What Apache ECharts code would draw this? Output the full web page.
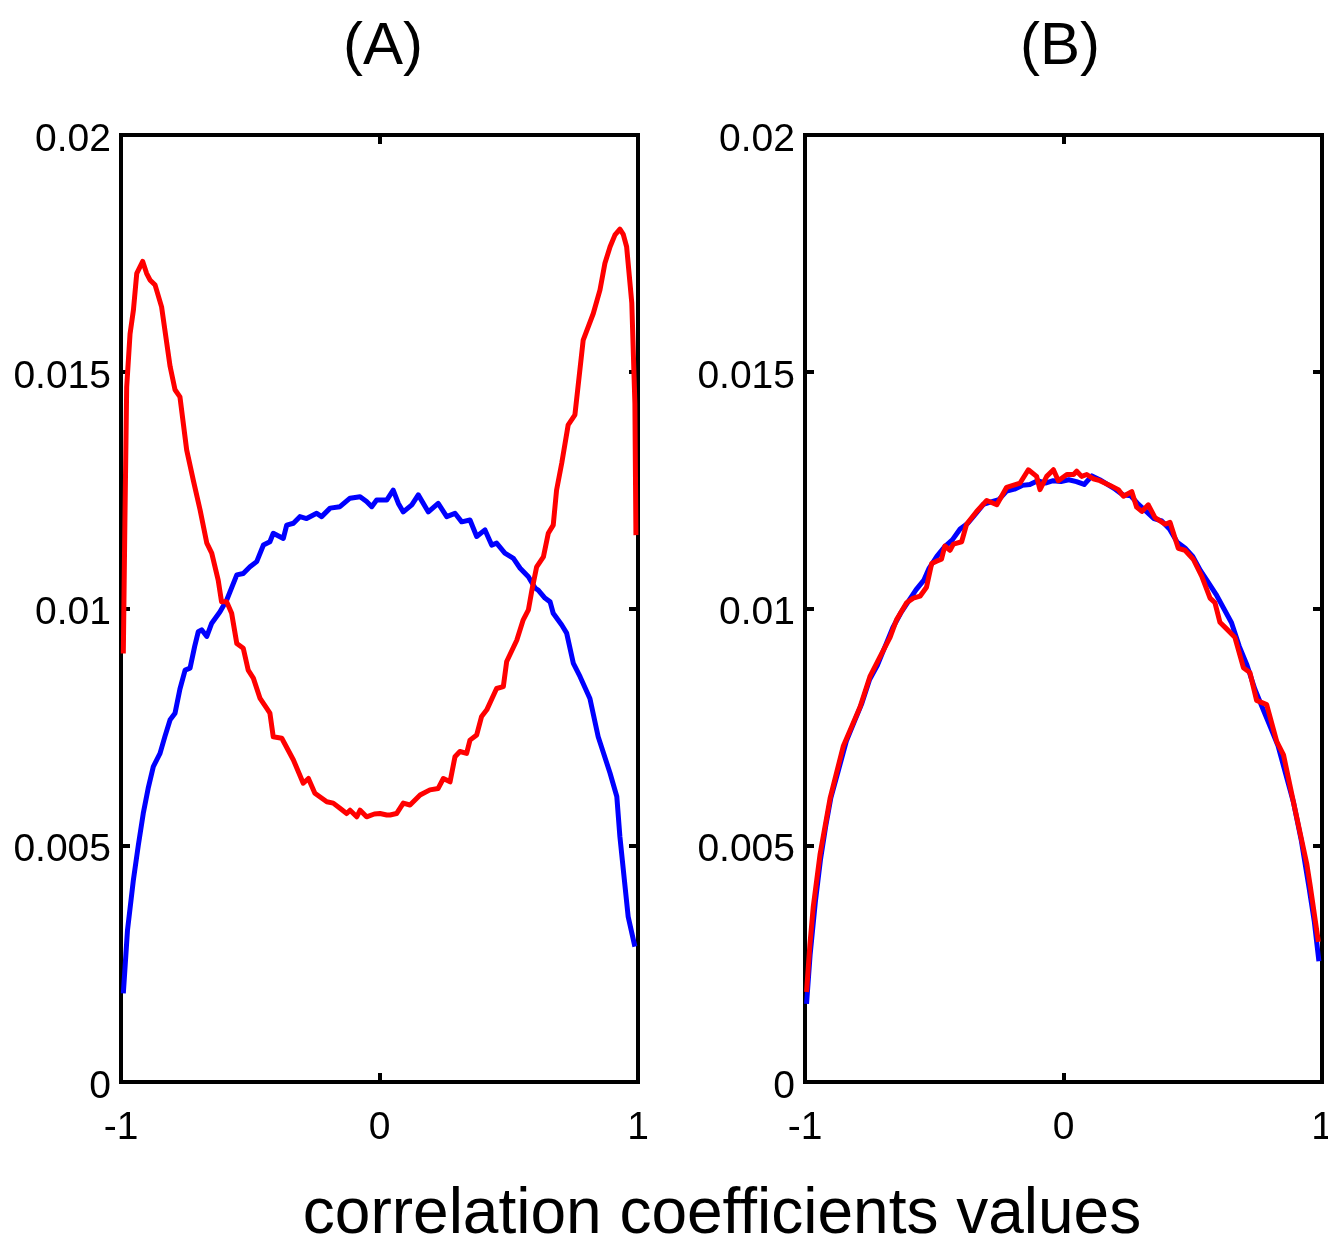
<!DOCTYPE html>
<html>
<head>
<meta charset="utf-8">
<script src="https://cdn.jsdelivr.net/npm/echarts@6/dist/echarts.min.js"></script>
<style>
html,body{margin:0;padding:0;background:#fff;}
#c{width:1328px;height:1237px;}
</style>
</head>
<body>
<div id="c"></div>
<script>
// ---- data ----
const panelTitles = ['(A)', '(B)'];
const xLabel = 'correlation coefficients values';
const xTicks = [-1, 0, 1];
const yTicks = [0, 0.005, 0.01, 0.015, 0.02];

// Panel A, blue curve [x, density]
const aBlue = [[-0.991,0.00187],[-0.975,0.0032],[-0.952,0.00427],[-0.933,0.0050],[-0.914,0.00567],[-0.895,0.0062],[-0.875,0.00666],[-0.849,0.00694],[-0.83,0.0073],[-0.81,0.00765],[-0.791,0.00779],[-0.772,0.0083],[-0.752,0.0087],[-0.733,0.00874],[-0.715,0.0092],[-0.701,0.00951],[-0.688,0.00955],[-0.668,0.00941],[-0.649,0.00969],[-0.617,0.00993],[-0.591,0.01018],[-0.552,0.01071],[-0.527,0.01074],[-0.501,0.01088],[-0.475,0.01099],[-0.449,0.01134],[-0.424,0.01141],[-0.411,0.01159],[-0.372,0.01148],[-0.359,0.01176],[-0.333,0.0118],[-0.308,0.01194],[-0.282,0.0119],[-0.243,0.01201],[-0.224,0.01194],[-0.191,0.01212],[-0.153,0.01215],[-0.114,0.01233],[-0.075,0.01236],[-0.05,0.01226],[-0.03,0.01215],[-0.011,0.01229],[0.028,0.01229],[0.053,0.0125],[0.073,0.01222],[0.092,0.01204],[0.125,0.01219],[0.15,0.0124],[0.189,0.01204],[0.227,0.01222],[0.26,0.01194],[0.292,0.01201],[0.318,0.01183],[0.35,0.01187],[0.376,0.01152],[0.408,0.01166],[0.434,0.01134],[0.453,0.01138],[0.485,0.01117],[0.518,0.01106],[0.544,0.01085],[0.576,0.01067],[0.602,0.01043],[0.614,0.01039],[0.64,0.01022],[0.66,0.01014],[0.672,0.0099],[0.705,0.00965],[0.724,0.00948],[0.75,0.00884],[0.776,0.00856],[0.814,0.0081],[0.846,0.00729],[0.892,0.00652],[0.918,0.00603],[0.93,0.00518],[0.962,0.00349],[0.988,0.00286]];

// Panel A, red curve [x, density]
const aRed = [[-0.991,0.00905],[-0.985,0.0118],[-0.978,0.01468],[-0.965,0.0158],[-0.952,0.0163],[-0.939,0.01708],[-0.916,0.01733],[-0.901,0.01708],[-0.888,0.01694],[-0.868,0.01683],[-0.843,0.01637],[-0.81,0.01511],[-0.791,0.01462],[-0.772,0.01447],[-0.746,0.01335],[-0.72,0.0127],[-0.694,0.01208],[-0.668,0.01138],[-0.649,0.01117],[-0.624,0.0106],[-0.611,0.01014],[-0.591,0.01014],[-0.572,0.0099],[-0.552,0.00926],[-0.527,0.00916],[-0.508,0.0087],[-0.488,0.00853],[-0.462,0.0081],[-0.436,0.00789],[-0.424,0.00779],[-0.411,0.00729],[-0.378,0.00726],[-0.333,0.0068],[-0.295,0.00631],[-0.275,0.00641],[-0.25,0.0061],[-0.204,0.00592],[-0.179,0.00589],[-0.153,0.00578],[-0.127,0.00567],[-0.114,0.00574],[-0.088,0.0056],[-0.075,0.00574],[-0.05,0.0056],[-0.02,0.00566],[0.002,0.00567],[0.028,0.00564],[0.041,0.00564],[0.066,0.00567],[0.073,0.00564],[0.092,0.00589],[0.118,0.00585],[0.157,0.00606],[0.195,0.00617],[0.227,0.0062],[0.247,0.00641],[0.273,0.00634],[0.292,0.00687],[0.311,0.00698],[0.337,0.00694],[0.35,0.00722],[0.376,0.00733],[0.395,0.00772],[0.415,0.00786],[0.453,0.00831],[0.479,0.00835],[0.492,0.00888],[0.531,0.00933],[0.556,0.00976],[0.576,0.00997],[0.59,0.0104],[0.608,0.01088],[0.634,0.01109],[0.653,0.01159],[0.672,0.01176],[0.685,0.0125],[0.705,0.01307],[0.73,0.01388],[0.756,0.01409],[0.788,0.01567],[0.827,0.01623],[0.853,0.01673],[0.872,0.01729],[0.892,0.01764],[0.911,0.01789],[0.93,0.01801],[0.943,0.0179],[0.956,0.01764],[0.976,0.01645],[0.988,0.01433],[0.992,0.01155]];

// Panel B, blue curve [x, density]
const bBlue = [[-0.994,0.00165],[-0.98,0.0027],[-0.96,0.0038],[-0.94,0.0047],[-0.92,0.0054],[-0.9,0.006],[-0.87,0.0066],[-0.84,0.0072],[-0.81,0.0076],[-0.78,0.008],[-0.75,0.0085],[-0.72,0.0088],[-0.69,0.0092],[-0.66,0.0096],[-0.63,0.0099],[-0.6,0.01015],[-0.57,0.0104],[-0.54,0.0106],[-0.52,0.01085],[-0.49,0.0111],[-0.46,0.0113],[-0.43,0.01145],[-0.4,0.01168],[-0.37,0.0118],[-0.34,0.012],[-0.31,0.0122],[-0.28,0.01225],[-0.25,0.0123],[-0.22,0.01248],[-0.19,0.01252],[-0.16,0.0126],[-0.13,0.01262],[-0.1,0.0127],[-0.07,0.01265],[-0.04,0.0127],[-0.01,0.01268],[0.02,0.01272],[0.05,0.01268],[0.08,0.01262],[0.11,0.0128],[0.14,0.01272],[0.17,0.01262],[0.2,0.01252],[0.23,0.0124],[0.26,0.01238],[0.29,0.0122],[0.32,0.01205],[0.35,0.0119],[0.38,0.01185],[0.41,0.01168],[0.44,0.0114],[0.47,0.01128],[0.5,0.0111],[0.53,0.0108],[0.56,0.01055],[0.59,0.0103],[0.62,0.01],[0.65,0.0097],[0.68,0.0092],[0.71,0.0088],[0.74,0.0083],[0.77,0.0079],[0.8,0.0075],[0.83,0.0071],[0.86,0.0065],[0.89,0.0059],[0.92,0.0051],[0.95,0.0041],[0.97,0.0034],[0.988,0.00255]];

// Panel B, red curve [x, density]
const bRed = [[-0.994,0.0019],[-0.981,0.0029],[-0.968,0.0037],[-0.942,0.0048],[-0.903,0.00599],[-0.852,0.00709],[-0.82,0.0075],[-0.787,0.00792],[-0.749,0.00856],[-0.71,0.00898],[-0.671,0.00939],[-0.646,0.00976],[-0.607,0.01012],[-0.581,0.01022],[-0.555,0.01026],[-0.53,0.01045],[-0.51,0.01095],[-0.491,0.011],[-0.472,0.01104],[-0.459,0.01132],[-0.439,0.01123],[-0.426,0.01136],[-0.394,0.01141],[-0.375,0.01178],[-0.336,0.01205],[-0.297,0.01228],[-0.258,0.01219],[-0.22,0.01256],[-0.168,0.01265],[-0.136,0.01293],[-0.104,0.01279],[-0.091,0.01251],[-0.065,0.01279],[-0.039,0.01293],[-0.02,0.0127],[0.013,0.01283],[0.039,0.01283],[0.051,0.0129],[0.07,0.01279],[0.09,0.01283],[0.115,0.01274],[0.141,0.0127],[0.18,0.0126],[0.212,0.01251],[0.232,0.01237],[0.264,0.01247],[0.283,0.01214],[0.303,0.01205],[0.328,0.01219],[0.354,0.01192],[0.393,0.01178],[0.412,0.01182],[0.444,0.01127],[0.47,0.01123],[0.502,0.01104],[0.535,0.01068],[0.567,0.01022],[0.586,0.01012],[0.605,0.00971],[0.631,0.00957],[0.663,0.00939],[0.696,0.00875],[0.721,0.00865],[0.747,0.00806],[0.786,0.00797],[0.825,0.00719],[0.851,0.00691],[0.89,0.0059],[0.941,0.00461],[0.954,0.00416],[0.986,0.00296]];

// ---- chart ----
const FONT = 'Liberation Sans, Arial, Helvetica, sans-serif';
const BLUE = '#0000ff', RED = '#ff0000';
const chart = echarts.init(document.getElementById('c'), null, {renderer: 'canvas'});

const grids = [
  {left: 121, top: 135, width: 517, height: 947},
  {left: 805, top: 135, width: 517, height: 947}
].map(g => Object.assign(g, {show: true, borderColor: '#000', borderWidth: 4, backgroundColor: 'transparent', containLabel: false, outerBoundsMode: 'none'}));

const fmtY = v => String(+Number(v).toFixed(3));
const tickStyle = {show: true, inside: true, length: 9, lineStyle: {color: '#000', width: 4}};
const labelStyle = {color: '#000', fontFamily: FONT, fontSize: 39};

const xAxes = [], yAxes = [];
[0, 1].forEach(gi => {
  ['bottom', 'top'].forEach(pos => {
    xAxes.push({
      type: 'value', gridIndex: gi, position: pos,
      min: xTicks[0], max: xTicks[xTicks.length - 1], interval: 1,
      axisLine: {show: false, onZero: false}, splitLine: {show: false},
      axisTick: tickStyle,
      axisLabel: pos === 'bottom' ? Object.assign({margin: 27, formatter: v => String(v)}, labelStyle) : {show: false}
    });
  });
  ['left', 'right'].forEach(pos => {
    yAxes.push({
      type: 'value', gridIndex: gi, position: pos,
      min: yTicks[0], max: yTicks[yTicks.length - 1], interval: 0.005,
      axisLine: {show: false, onZero: false}, splitLine: {show: false},
      axisTick: tickStyle,
      axisLabel: pos === 'left' ? Object.assign({margin: 10, verticalAlign: 'top', lineHeight: 10, formatter: fmtY}, labelStyle) : {show: false}
    });
  });
});

function line(data, color, xi, yi) {
  return {
    type: 'line', data: data, xAxisIndex: xi, yAxisIndex: yi,
    showSymbol: false, symbol: 'none', smooth: false, clip: true,
    lineStyle: {color: color, width: 5, join: 'round'},
    itemStyle: {color: color}, emphasis: {disabled: true}
  };
}

chart.setOption({
  backgroundColor: '#fff',
  animation: false,
  grid: grids,
  xAxis: xAxes,
  yAxis: yAxes,
  series: [
    line(aBlue, BLUE, 0, 0),
    line(aRed, RED, 0, 0),
    line(bBlue, BLUE, 2, 2),
    line(bRed, RED, 2, 2)
  ],
  graphic: [
    {type: 'text', x: 383, y: 47, style: {text: panelTitles[0], align: 'center', verticalAlign: 'middle', font: '60px ' + FONT, fill: '#000'}},
    {type: 'text', x: 1060, y: 47, style: {text: panelTitles[1], align: 'center', verticalAlign: 'middle', font: '60px ' + FONT, fill: '#000'}},
    {type: 'text', x: 722, y: 1215, style: {text: xLabel, align: 'center', verticalAlign: 'middle', font: '64px ' + FONT, fill: '#000'}}
  ]
});
</script>
</body>
</html>
